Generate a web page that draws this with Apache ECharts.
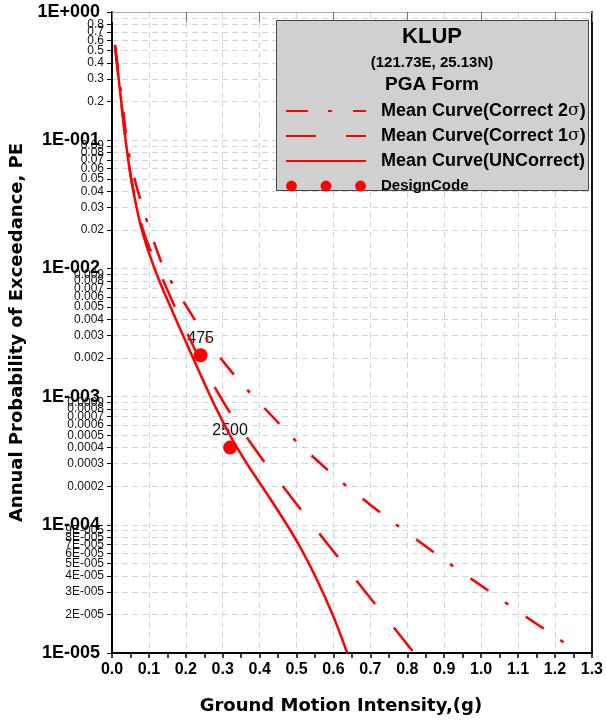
<!DOCTYPE html>
<html>
<head>
<meta charset="utf-8">
<script src="https://cdn.jsdelivr.net/npm/echarts@6.0.0/dist/echarts.min.js"></script>
<style>
  html, body { margin: 0; padding: 0; background: #fff; }
  #chart { width: 606px; height: 722px; }
</style>
</head>
<body>
<div id="chart"></div>
<script>
// values (g, annual PE)
const uncorrectG  = [0.008, 0.02, 0.03, 0.04, 0.05, 0.06, 0.07, 0.08, 0.10, 0.13, 0.163, 0.192, 0.219, 0.252, 0.287, 0.333, 0.374, 0.419, 0.464, 0.509, 0.554, 0.599, 0.637];
const uncorrectPE = [0.55, 0.269, 0.148, 0.0851, 0.0537, 0.0372, 0.0269, 0.0204, 0.0132, 0.00776, 0.00468, 0.00302, 0.00202, 0.00124, 0.000759, 0.000427, 0.000275, 0.000176, 0.000111, 0.0000676, 0.000038, 0.0000195, 0.00001];

const sigma1G  = [0.008, 0.02, 0.03, 0.04, 0.051, 0.06, 0.07, 0.084, 0.10, 0.125, 0.165, 0.197, 0.244, 0.279, 0.325, 0.368, 0.423, 0.477, 0.528, 0.585, 0.639, 0.699, 0.748, 0.807, 0.819];
const sigma1PE = [0.55, 0.269, 0.148, 0.0851, 0.0525, 0.038, 0.0282, 0.02, 0.0148, 0.01, 0.00543, 0.00343, 0.0018, 0.001175, 0.000708, 0.000468, 0.000282, 0.000177, 0.000114, 0.0000703, 0.0000447, 0.000027, 0.000018, 0.000011, 0.00001];

const sigma2G  = [0.008, 0.027, 0.04, 0.049, 0.06, 0.081, 0.098, 0.140, 0.171, 0.238, 0.271, 0.347, 0.387, 0.469, 0.515, 0.609, 0.653, 0.753, 0.799, 0.902, 0.948, 1.051, 1.100, 1.205, 1.262];
const sigma2PE = [0.55, 0.207, 0.1, 0.0706, 0.0513, 0.0314, 0.0219, 0.0101, 0.00706, 0.00344, 0.00245, 0.0013, 0.00098, 0.00055, 0.000406, 0.000232, 0.000183, 0.000109, 0.0000869, 0.0000528, 0.0000426, 0.0000265, 0.0000211, 0.0000132, 0.00001];

const designG = [0.24, 0.32];
const designPE = [0.0021, 0.0004];
const designLabels = ['475', '2500'];

// minor labels inside each decade
const minorPE = [0.9, 0.8, 0.7, 0.6, 0.5, 0.4, 0.3, 0.2,
  0.09, 0.08, 0.07, 0.06, 0.05, 0.04, 0.03, 0.02,
  0.009, 0.008, 0.007, 0.006, 0.005, 0.004, 0.003, 0.002,
  0.0009, 0.0008, 0.0007, 0.0006, 0.0005, 0.0004, 0.0003, 0.0002,
  0.00009, 0.00008, 0.00007, 0.00006, 0.00005, 0.00004, 0.00003, 0.00002];
const decadePE = [1, 0.1, 0.01, 0.001, 0.0001, 0.00001];

const FONT = '"Liberation Sans", Arial, sans-serif';
const WIDE = '"DejaVu Sans", Verdana, sans-serif';
const RED = '#ff0000';
const GRID = '#c9d7e8';

const pairs = (xs, ys) => xs.map((x, i) => [x, ys[i]]);
const pad3 = n => String(n).padStart(3, '0');

function majorLabel(v) {
  const e = Math.round(Math.log10(v));
  return '1E' + (e >= 0 ? '+' : '-') + pad3(Math.abs(e));
}
function minorLabel(lv) {
  const e = Math.floor(lv + 1e-9);
  const m = Math.round(Math.pow(10, lv - e));
  if (e >= -4) return (m * Math.pow(10, e)).toFixed(-e);
  return m + 'E-' + pad3(-e);
}

const chart = echarts.init(document.getElementById('chart'));
chart.setOption({
  animation: false,
  backgroundColor: '#fff',
  textStyle: { fontFamily: FONT },
  grid: { left: 112, right: 14, top: 12, bottom: 69, containLabel: false },
  xAxis: [
    {
      type: 'value', position: 'bottom', min: 0, max: 1.3, interval: 0.1,
      name: 'Ground Motion Intensity,(g)', nameLocation: 'middle', nameGap: 44,
      nameTextStyle: { fontFamily: WIDE, fontSize: 18, fontWeight: 'bold', color: '#000', padding: [0, 22, 0, 0] },
      axisLine: { onZero: false, lineStyle: { color: '#000', width: 2 } },
      axisTick: { length: 5, lineStyle: { color: '#000', width: 1.5 } },
      minorTick: { show: true, splitNumber: 2, length: 5, lineStyle: { color: '#000', width: 1.5 } },
      axisLabel: { fontSize: 16, fontWeight: 'bold', color: '#000', margin: 9, formatter: v => v.toFixed(1) },
      splitLine: { show: true, lineStyle: { color: GRID, type: [6, 4] } }
    },
    {
      type: 'value', position: 'top', min: 0, max: 1.3, interval: 0.2,
      axisLine: { onZero: false, lineStyle: { color: '#aaa', width: 1 } },
      axisTick: { inside: true, length: 10, lineStyle: { color: '#777' } },
      axisLabel: { show: false },
      splitLine: { show: false }
    }
  ],
  yAxis: [
    {
      type: 'log', logBase: 10, position: 'left', min: 0.00001, max: 1, splitNumber: 5,
      name: 'Annual Probability of Exceedance, PE', nameLocation: 'middle', nameGap: 82,
      nameTextStyle: { fontFamily: WIDE, fontSize: 18, fontWeight: 'bold', color: '#000' },
      axisLine: { onZero: false, lineStyle: { color: '#000', width: 2 } },
      axisTick: { length: 5, lineStyle: { color: '#000' } },
      axisLabel: { fontSize: 18, fontWeight: 'bold', color: '#000', margin: 12, formatter: majorLabel },
      splitLine: { show: false }
    },
    {
      type: 'value', position: 'left', min: -5, max: 0,
      axisLine: { show: false, onZero: false },
      axisTick: { show: true, length: 5, customValues: decadePE.concat(minorPE).map(Math.log10), lineStyle: { color: '#000' } },
      axisLabel: { fontSize: 12, color: '#111', margin: 8, customValues: minorPE.map(Math.log10), formatter: minorLabel },
      splitLine: { show: true, lineStyle: { color: GRID, type: [6, 4] } }
    },
    {
      type: 'value', position: 'right', min: -5, max: 0,
      axisLine: { show: true, onZero: false, lineStyle: { color: '#111', width: 2 } },
      axisTick: { show: false },
      axisLabel: { show: false },
      splitLine: { show: false }
    }
  ],
  legend: {
    orient: 'vertical', left: 285, top: 102, padding: 0,
    itemWidth: 80, itemHeight: 12, itemGap: 7, selectedMode: false,
    textStyle: {
      fontSize: 18, fontWeight: 'bold', color: '#000', lineHeight: 18, padding: [0, 0, 0, 10],
      rich: {
        s: { fontFamily: '"DejaVu Serif", serif', fontWeight: 'normal', fontSize: 17, color: '#000' },
        d: { fontSize: 15, fontWeight: 'bold', color: '#000' }
      }
    },
    formatter: name => name === 'DesignCode' ? '{d|DesignCode}' : name.replace('σ', '{s|σ}'),
    data: [
      { name: 'Mean Curve(Correct 2σ)', itemStyle: { opacity: 0 } },
      { name: 'Mean Curve(Correct 1σ)', itemStyle: { opacity: 0 } },
      { name: 'Mean Curve(UNCorrect)', itemStyle: { opacity: 0 } },
      { name: 'DesignCode', itemStyle: { opacity: 1 }, icon: 'path://M0,6a6,6 0 1,0 12,0a6,6 0 1,0 -12,0M38,6a6,6 0 1,0 12,0a6,6 0 1,0 -12,0M76,6a6,6 0 1,0 12,0a6,6 0 1,0 -12,0' }
    ]
  },
  graphic: [
    { type: 'rect', left: 276, top: 20, z: 3, shape: { width: 312, height: 170 }, style: { fill: '#d0d0d0', stroke: '#444', lineWidth: 1 } },
    { type: 'text', x: 432, y: 37, z: 3, style: { text: 'KLUP', fontFamily: FONT, fontSize: 22, fontWeight: 'bold', fill: '#000', align: 'center', verticalAlign: 'middle' } },
    { type: 'text', x: 432, y: 63, z: 3, style: { text: '(121.73E, 25.13N)', fontFamily: FONT, fontSize: 15, fontWeight: 'bold', fill: '#000', align: 'center', verticalAlign: 'middle' } },
    { type: 'text', x: 432, y: 85, z: 3, style: { text: 'PGA Form', fontFamily: FONT, fontSize: 19, fontWeight: 'bold', fill: '#000', align: 'center', verticalAlign: 'middle' } }
  ],
  series: [
    {
      name: 'Mean Curve(Correct 2σ)', type: 'line', xAxisIndex: 0, yAxisIndex: 0,
      symbol: 'none', smooth: 0.4, data: pairs(sigma2G, sigma2PE),
      itemStyle: { color: RED },
      lineStyle: { color: RED, width: 2.5, type: [22, 20, 4, 21] }
    },
    {
      name: 'Mean Curve(Correct 1σ)', type: 'line', xAxisIndex: 0, yAxisIndex: 0,
      symbol: 'none', smooth: 0.4, data: pairs(sigma1G, sigma1PE),
      itemStyle: { color: RED },
      lineStyle: { color: RED, width: 2.5, type: [30, 30] }
    },
    {
      name: 'Mean Curve(UNCorrect)', type: 'line', xAxisIndex: 0, yAxisIndex: 0,
      symbol: 'none', smooth: 0.4, data: pairs(uncorrectG, uncorrectPE),
      itemStyle: { color: RED },
      lineStyle: { color: RED, width: 2.5 }
    },
    {
      name: 'DesignCode', type: 'scatter', xAxisIndex: 0, yAxisIndex: 0,
      symbolSize: 14, data: pairs(designG, designPE),
      itemStyle: { color: RED, opacity: 1 },
      label: {
        show: true, position: 'top', distance: 2, fontSize: 16, color: '#111',
        formatter: p => designLabels[p.dataIndex]
      }
    }
  ]
});
</script>
</body>
</html>
